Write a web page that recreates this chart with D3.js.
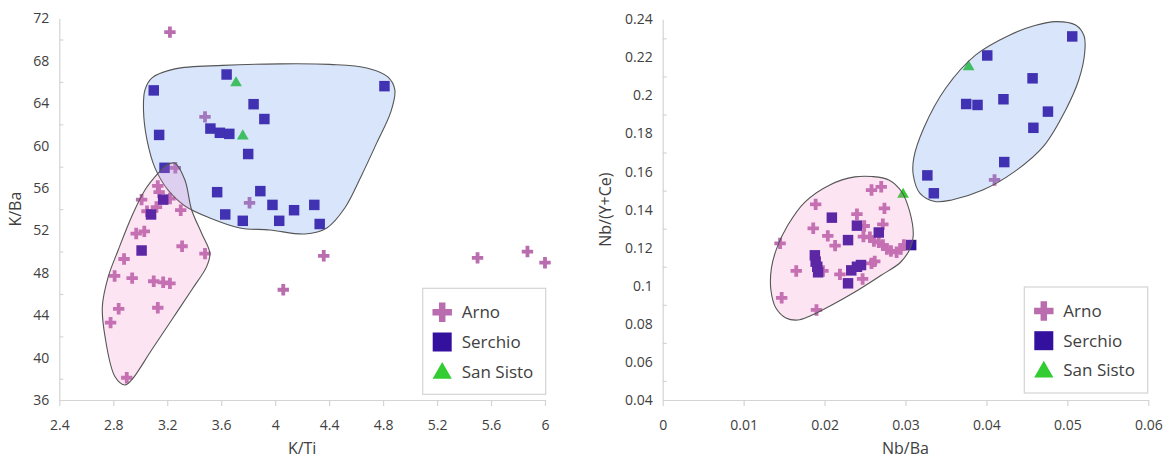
<!DOCTYPE html>
<html>
<head>
<meta charset="utf-8">
<script src="https://cdn.jsdelivr.net/npm/d3@7"></script>
<style>
  body { margin: 0; background: #fff; }
  svg { display: block; font-family: "Open Sans", sans-serif; }
</style>
</head>
<body>
<svg id="chart" width="1169" height="461"></svg>
<script>
// K/Ti vs K/Ba  (left panel)
const arnoKTi = [
  [3.22,70.7],[3.48,62.7],[3.26,57.9],[3.81,54.6],[3.13,56.2],[3.14,55.6],[3.01,54.9],
  [3.22,55.0],[3.12,54.2],[3.05,53.8],[3.30,53.9],[2.97,51.7],[3.03,51.9],[3.31,50.5],
  [3.48,49.8],[2.88,49.3],[2.81,47.7],[2.94,47.5],[3.10,47.2],[3.17,47.1],[3.22,47.0],
  [2.84,44.6],[3.13,44.7],[2.78,43.3],[2.90,38.1],[4.36,49.6],[5.50,49.4],[5.87,50.0],
  [6.0,48.95],[4.06,46.4]
];
const serchioKTi = [
  [3.64,66.7],[3.10,65.2],[4.81,65.6],[3.84,63.9],[3.92,62.5],[3.52,61.6],[3.59,61.2],
  [3.66,61.1],[3.14,61.0],[3.80,59.2],[3.18,57.9],[3.57,55.6],[3.89,55.7],[3.17,54.9],
  [3.98,54.4],[4.29,54.4],[4.14,53.9],[3.63,53.5],[3.08,53.5],[3.76,52.9],[4.03,52.9],
  [4.33,52.6],[3.01,50.1]
];
const sanSistoKTi = [[3.71,65.9],[3.76,60.9]];

// Nb/Ba vs Nb/(Y+Ce)  (right panel)
const arnoNb = [
  [0.0410,0.1556],[0.0258,0.1503],[0.0270,0.152],[0.0189,0.1428],[0.0274,0.1407],
  [0.0240,0.1376],[0.0186,0.1302],[0.0272,0.1323],[0.0249,0.1314],[0.0204,0.1262],
  [0.0145,0.1223],[0.0213,0.1211],[0.0248,0.1258],[0.0256,0.1255],[0.0261,0.1235],
  [0.0267,0.1228],[0.0272,0.1214],[0.0277,0.1193],[0.0282,0.1183],[0.0289,0.1176],
  [0.0294,0.1193],[0.0298,0.1214],[0.0258,0.1118],[0.0262,0.1128],[0.0198,0.1078],
  [0.0165,0.1078],[0.0219,0.1060],[0.0247,0.1036],[0.0147,0.0937],[0.0190,0.0873]
];
const serchioNb = [
  [0.0506,0.231],[0.0401,0.221],[0.0457,0.209],[0.0421,0.198],[0.0375,0.1955],
  [0.0389,0.195],[0.0476,0.1915],[0.0458,0.183],[0.0422,0.165],[0.0327,0.158],
  [0.0335,0.1486],[0.0209,0.1358],[0.0240,0.1316],[0.0267,0.128],[0.0229,0.124],
  [0.0307,0.1214],[0.0188,0.116],[0.0189,0.1127],[0.0191,0.110],[0.0192,0.1071],
  [0.0245,0.1109],[0.0240,0.110],[0.0233,0.1081],[0.0229,0.1013]
];
const sanSistoNb = [[0.0378,0.215],[0.0297,0.148]];

// field outlines (data coordinates)
const arnoFieldKTi = [
  [3.257,58.33],[3.331,56.75],[3.381,53.92],[3.455,51.73],[3.516,49.84],[3.492,48.58],
  [3.381,46.38],[3.233,43.55],[3.084,40.72],[2.936,37.89],[2.887,37.42],[2.813,38.2],
  [2.739,41.97],[2.719,44.8],[2.763,47.63],[2.837,50.15],[2.936,53.29],[3.035,55.81],
  [3.133,57.39],[3.196,58.17]
];
const serchioFieldKTi = [
  [3.087,66.38],[3.257,67.23],[3.613,67.56],[4.035,67.70],[4.405,67.65],[4.679,67.32],
  [4.835,66.47],[4.887,65.25],[4.857,63.17],[4.753,60.25],[4.642,57.23],[4.516,54.11],
  [4.383,52.23],[4.22,51.66],[3.961,52.04],[3.738,52.23],[3.516,53.17],[3.331,54.30],
  [3.205,55.81],[3.109,57.89],[3.05,60.53],[3.024,63.36],[3.035,65.25]
];
const arnoFieldNb = [
  [0.02374,0.1572],[0.02584,0.1574],[0.02794,0.1556],[0.02954,0.1493],[0.03053,0.1388],
  [0.03096,0.1267],[0.03065,0.1204],[0.02942,0.1125],[0.02695,0.1054],[0.02374,0.0967],
  [0.0209,0.0899],[0.01819,0.0841],[0.0167,0.0820],[0.01522,0.0831],[0.01399,0.0883],
  [0.01337,0.0978],[0.01343,0.1093],[0.01411,0.1199],[0.01547,0.1319],[0.01757,0.1440],
  [0.02065,0.1530]
];
const serchioFieldNb = [
  [0.04856,0.2388],[0.05102,0.2370],[0.05207,0.2312],[0.05214,0.2223],[0.0514,0.2081],
  [0.04979,0.1924],[0.04707,0.1734],[0.04325,0.1593],[0.03954,0.1503],[0.03572,0.1451],
  [0.03362,0.1443],[0.03177,0.1487],[0.03096,0.1582],[0.03102,0.1671],[0.03226,0.1829],
  [0.03498,0.2039],[0.03868,0.2213],[0.0429,0.2318],[0.04598,0.2367]
];

const kTiTicks = [2.4,2.8,3.2,3.6,4,4.4,4.8,5.2,5.6,6];
const kBaTicks = [36,40,44,48,52,56,60,64,68,72];
const kBaMinor = [38,42,46,50,54,58,62,66,70];
const nbBaTicks = [0,0.01,0.02,0.03,0.04,0.05,0.06];
const nbYCeTicks = [0.04,0.06,0.08,0.1,0.12,0.14,0.16,0.18,0.2,0.22,0.24];
const nbYCeMinor = [0.05,0.07,0.09,0.11,0.13,0.15,0.17,0.19,0.21,0.23];

const legendNames = ['Arno', 'Serchio', 'San Sisto'];

const colArno = '#b96cae';
const colSerchio = '#34109e';
const colSanSisto = '#33cc33';
const axisColor = '#d4d4d4';
const textColor = '#404040';

const svg = d3.select('#chart');
svg.append('rect').attr('width', 1169).attr('height', 461).attr('fill', '#fff');

const fmt = v => String(+v.toFixed(2));

function drawPanel(cfg) {
  const x = d3.scaleLinear().domain(cfg.xDomain).range([cfg.left, cfg.right]);
  const y = d3.scaleLinear().domain(cfg.yDomain).range([cfg.bottom, cfg.top]);
  const g = svg.append('g');

  // axes
  const xAxis = g.append('g')
    .attr('transform', `translate(0,${cfg.bottom})`)
    .call(d3.axisBottom(x).tickValues(cfg.xTicks).tickSize(6).tickSizeOuter(0).tickPadding(14).tickFormat(fmt));
  const yAxis = g.append('g')
    .attr('transform', `translate(${cfg.left},0)`)
    .call(d3.axisLeft(y).tickValues(cfg.yTicks).tickSize(0).tickPadding(10).tickFormat(fmt));
  const yMinor = g.append('g')
    .attr('transform', `translate(${cfg.left},0)`)
    .call(d3.axisRight(y).tickValues(cfg.yMinor).tickSize(4).tickFormat(''));
  yMinor.select('.domain').remove();
  [xAxis, yAxis, yMinor].forEach(a => {
    a.selectAll('path, line').attr('stroke', axisColor).attr('stroke-width', 1.2);
    a.selectAll('text').attr('fill', textColor).style('font-size', '14px')
      .style('font-family', '"Open Sans", sans-serif');
  });

  g.append('text')
    .attr('x', (cfg.left + cfg.right) / 2).attr('y', 454)
    .attr('text-anchor', 'middle').attr('fill', textColor)
    .style('font-size', '16px').text(cfg.xTitle);
  g.append('text')
    .attr('transform', `translate(${cfg.yTitleX},${(cfg.top + cfg.bottom) / 2}) rotate(-90)`)
    .attr('text-anchor', 'middle').attr('fill', textColor)
    .style('font-size', '16px').text(cfg.yTitle);

  // points
  const sym = (type, size) => d3.symbol().type(type).size(size)();
  const addPoints = (data, type, size, color) => {
    g.append('g').selectAll('path').data(data).enter().append('path')
      .attr('d', sym(type, size))
      .attr('transform', d => `translate(${x(d[0])},${y(d[1])})`)
      .attr('fill', color);
  };
  addPoints(cfg.arno, d3.symbolCross, 72, colArno);
  addPoints(cfg.serchio, d3.symbolSquare, 110, colSerchio);
  addPoints(cfg.sanSisto, d3.symbolTriangle, 60, colSanSisto);

  // fields drawn over the points, semi-transparent
  const line = d3.line().x(d => x(d[0])).y(d => y(d[1])).curve(d3.curveCatmullRomClosed.alpha(0.5));
  g.append('path').attr('d', line(cfg.serchioField))
    .attr('fill', 'rgb(100,150,240)').attr('fill-opacity', 0.25)
    .attr('stroke', '#555').attr('stroke-width', 1.1);
  g.append('path').attr('d', line(cfg.arnoField))
    .attr('fill', 'rgb(240,126,193)').attr('fill-opacity', 0.21)
    .attr('stroke', '#555').attr('stroke-width', 1.1);

  // legend
  const lg = g.append('g').attr('transform', `translate(${cfg.legX},${cfg.legY})`);
  lg.append('rect').attr('width', cfg.legW).attr('height', 106)
    .attr('fill', '#fff').attr('stroke', axisColor).attr('stroke-width', 1.2);
  const legSyms = [[d3.symbolCross, 210, colArno], [d3.symbolSquare, 361, colSerchio], [d3.symbolTriangle, 160, colSanSisto]];
  legendNames.forEach((name, i) => {
    const cy = 24 + i * 29.7;
    lg.append('path').attr('d', sym(legSyms[i][0], legSyms[i][1]))
      .attr('transform', `translate(19.5,${cy + (i === 2 ? 1.5 : 0)})`)
      .attr('fill', legSyms[i][2]);
    lg.append('text').attr('x', 39).attr('y', cy).attr('dy', '0.35em')
      .attr('fill', textColor).style('font-size', '17px').text(name);
  });
}

drawPanel({
  xDomain: [2.4, 6], yDomain: [36, 72], left: 59.3, right: 545, top: 18.3, bottom: 400,
  xTicks: kTiTicks, yTicks: kBaTicks, yMinor: kBaMinor,
  xTitle: 'K/Ti', yTitle: 'K/Ba', yTitleX: 21,
  arno: arnoKTi, serchio: serchioKTi, sanSisto: sanSistoKTi,
  arnoField: arnoFieldKTi, serchioField: serchioFieldKTi,
  legX: 422.7, legY: 288.3, legW: 123
});

drawPanel({
  xDomain: [0, 0.06], yDomain: [0.04, 0.24], left: 662.7, right: 1148.3, top: 19.3, bottom: 400,
  xTicks: nbBaTicks, yTicks: nbYCeTicks, yMinor: nbYCeMinor,
  xTitle: 'Nb/Ba', yTitle: 'Nb/(Y+Ce)', yTitleX: 611,
  arno: arnoNb, serchio: serchioNb, sanSisto: sanSistoNb,
  arnoField: arnoFieldNb, serchioField: serchioFieldNb,
  legX: 1024.3, legY: 287, legW: 123.4
});
</script>
</body>
</html>
